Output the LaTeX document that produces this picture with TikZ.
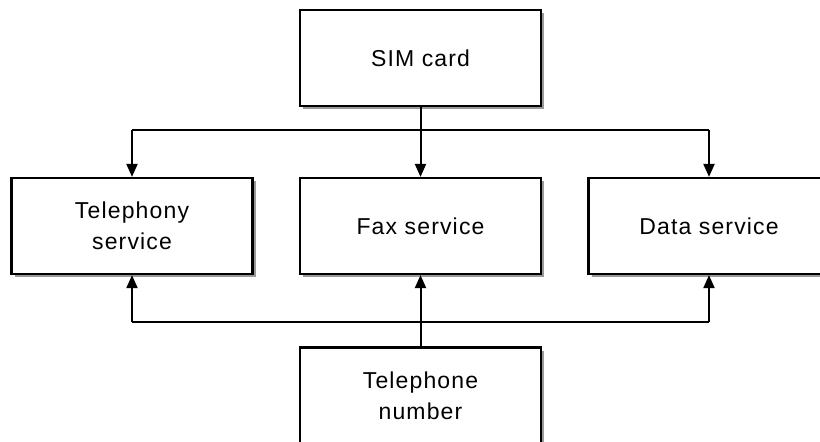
\documentclass[tikz,border=0pt]{standalone}
\usepackage{fontspec}
\setmainfont{Liberation Sans}[LetterSpace=5]
\usetikzlibrary{arrows.meta,shadows}
\begin{document}
\begin{tikzpicture}[x=1pt,y=-1pt,
  box/.style={draw=black, line width=2.2pt, fill=white, inner sep=0pt,
    minimum width=241pt, minimum height=96pt, align=center,
    font=\fontsize{23}{31}\selectfont,
    drop shadow={shadow xshift=3pt, shadow yshift=-3pt, fill=black!40, opacity=1}},
  conn/.style={line width=2pt},
  arr/.style={conn, -{Triangle[width=11pt,length=13pt]}}]
\useasboundingbox (0,0) rectangle (820,442);
\clip (0,0) rectangle (820,442);
\node[box] (sim)   at (420.5,58)  {SIM card};
\node[box] (tele)  at (132,226)   {Telephony\\service};
\node[box] (fax)   at (420.5,226) {Fax service};
\node[box] (data)  at (709,226)   {Data service};
\node[box] (telno) at (420.5,395.5) {Telephone\\number};
\coordinate (top) at (420.5,130);
\coordinate (bot) at (420.5,322);
\draw[arr] (sim.south) -- (fax.north);
\draw[conn] (top -| tele.north) -- (top -| data.north);
\draw[arr] (top -| tele.north) -- (tele.north);
\draw[arr] (top -| data.north) -- (data.north);
\draw[arr] (telno.north) -- (fax.south);
\draw[conn] (bot -| tele.south) -- (bot -| data.south);
\draw[arr] (bot -| tele.south) -- (tele.south);
\draw[arr] (bot -| data.south) -- (data.south);
\end{tikzpicture}
\end{document}
